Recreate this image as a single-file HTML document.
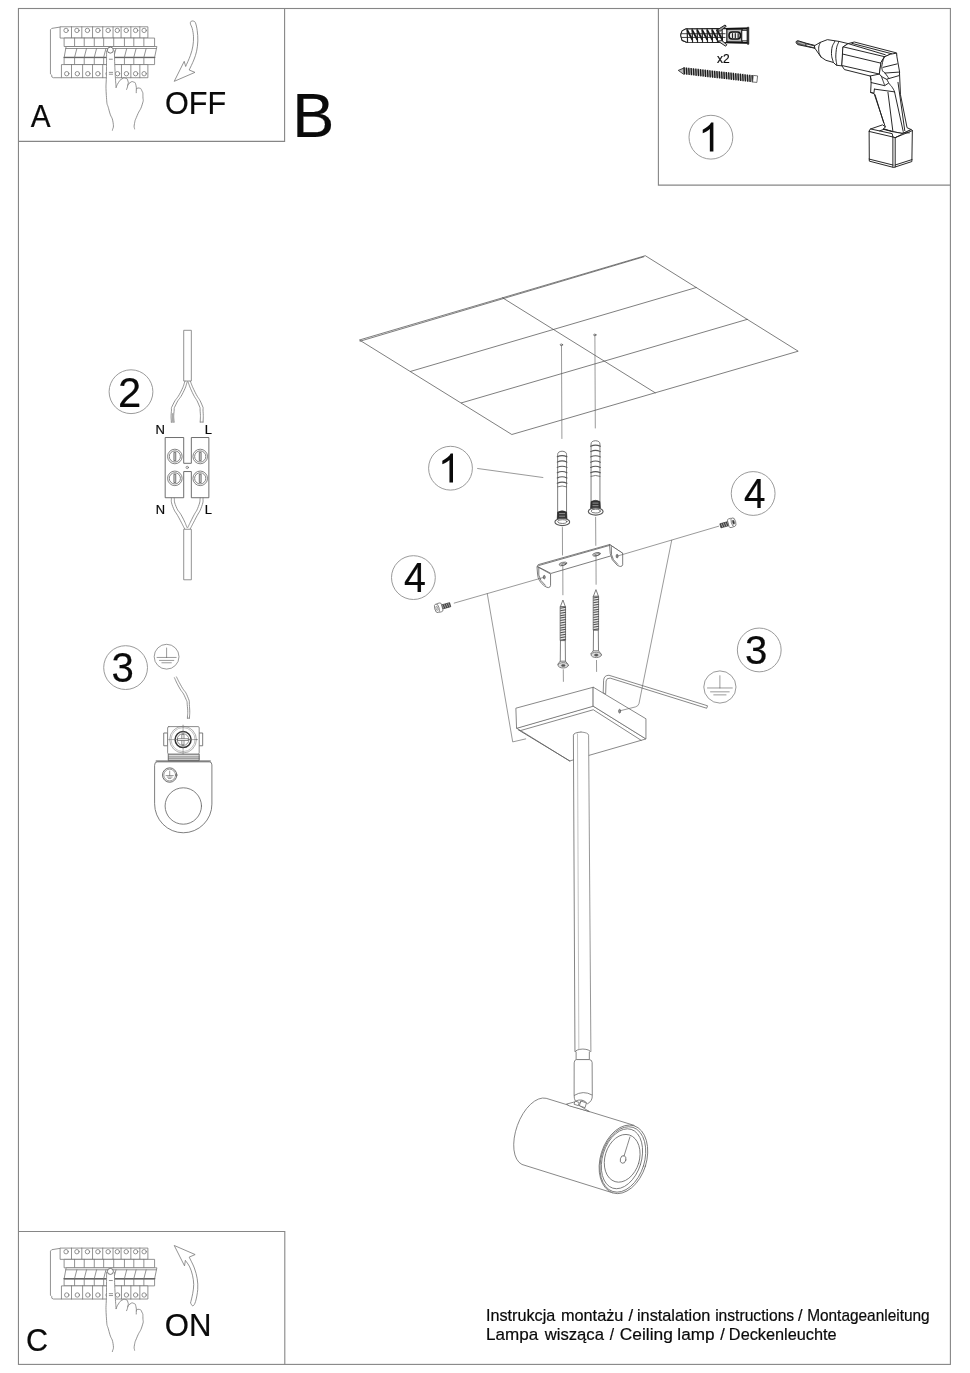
<!DOCTYPE html>
<html><head><meta charset="utf-8"><title>Instrukcja</title>
<style>
html,body{margin:0;padding:0;background:#fff;}
body{width:970px;height:1373px;overflow:hidden;font-family:"Liberation Sans",sans-serif;}
svg{display:block;position:absolute;left:0;top:0;will-change:transform;}
svg *{vector-effect:none;}
.fr *{fill:none;stroke:#868686;stroke-width:1.1;}
.tx text,.nt{font-family:"Liberation Sans",sans-serif;fill:#0a0a0a;stroke:#0a0a0a;stroke-width:0.2;}
.ft{stroke:#0a0a0a;stroke-width:0.18;}
.nc{fill:#fff;stroke:#8f8f8f;stroke-width:0.9;}
.ln{fill:none;stroke:#3c3c3c;stroke-width:0.85;stroke-linecap:round;stroke-linejoin:round;}
.lw{fill:#fff;stroke:#3c3c3c;stroke-width:0.85;stroke-linecap:round;stroke-linejoin:round;}
.lc{fill:none;stroke:#6a6a6a;stroke-width:0.8;stroke-linecap:round;stroke-linejoin:round;}
.lcw{fill:#fff;stroke:#6a6a6a;stroke-width:0.8;stroke-linecap:round;stroke-linejoin:round;}
.lp{fill:#fff;stroke:#585858;stroke-width:0.78;stroke-linecap:round;stroke-linejoin:round;}
.lpn{fill:none;stroke:#585858;stroke-width:0.78;stroke-linecap:round;stroke-linejoin:round;}
.lt2{fill:none;stroke:#484848;stroke-width:0.7;stroke-linecap:round;stroke-linejoin:round;}
.lt{fill:none;stroke:#555;stroke-width:0.6;stroke-linecap:round;stroke-linejoin:round;}
.ltw{fill:#fff;stroke:#555;stroke-width:0.6;stroke-linejoin:round;}
.lg{fill:none;stroke:#777;stroke-width:0.8;stroke-linecap:round;stroke-linejoin:round;}
.lgw{fill:#fff;stroke:#777;stroke-width:0.8;stroke-linejoin:round;}
.dk{fill:#333;stroke:#222;stroke-width:0.5;}
.gy{fill:#999;stroke:#444;stroke-width:0.6;}
</style></head>
<body>
<svg width="970" height="1373" viewBox="0 0 970 1373">
<g class="fr">
<rect x="18.45" y="8.50" width="931.95" height="1355.90" />
<path d="M18.45 141.40 L284.60 141.40 L284.60 8.50" />
<path d="M658.40 8.50 L658.40 185.10 L950.40 185.10" />
<path d="M18.45 1231.50 L284.80 1231.50 L284.80 1364.40" />
</g>
<g class="tx">
<text transform="translate(30.83 127.40) scale(0.9421 1)" font-size="31.56">A</text>
<text transform="translate(164.95 114.48) scale(0.9701 1)" font-size="31.52">OFF</text>
<text transform="translate(292.19 137.00) scale(0.9950 1)" font-size="63.42">B</text>
<text transform="translate(25.97 1350.59) scale(0.9781 1)" font-size="31.24">C</text>
<text transform="translate(164.82 1336.08) scale(0.9714 1)" font-size="32.08">ON</text>
<text transform="translate(717.05 62.50) scale(0.9613 1)" font-size="12.47">x2</text>
<text transform="translate(486.00 1320.60) scale(1.0313 1)" font-size="15.70" class="ft">Instrukcja</text>
<text transform="translate(560.90 1320.60) scale(1.0391 1)" font-size="15.70" class="ft">montażu</text>
<text transform="translate(628.50 1320.60) scale(1.0558 1)" font-size="15.70" class="ft">/</text>
<text transform="translate(637.00 1320.60) scale(1.0372 1)" font-size="15.70" class="ft">instalation</text>
<text transform="translate(715.14 1320.60) scale(0.9962 1)" font-size="15.70" class="ft">instructions</text>
<text transform="translate(798.10 1320.60) scale(1.0329 1)" font-size="15.70" class="ft">/</text>
<text transform="translate(807.13 1320.60) scale(0.9825 1)" font-size="15.70" class="ft">Montageanleitung</text>
<text transform="translate(486.09 1340.20) scale(1.0730 1)" font-size="15.90" class="ft">Lampa</text>
<text transform="translate(544.64 1340.20) scale(1.0494 1)" font-size="15.90" class="ft">wisząca</text>
<text transform="translate(609.80 1340.20) scale(0.9746 1)" font-size="15.90" class="ft">/</text>
<text transform="translate(619.73 1340.20) scale(1.0944 1)" font-size="15.90" class="ft">Ceiling</text>
<text transform="translate(677.34 1340.20) scale(1.0808 1)" font-size="15.90" class="ft">lamp</text>
<text transform="translate(720.20 1340.20) scale(1.0199 1)" font-size="15.90" class="ft">/</text>
<text transform="translate(728.86 1340.20) scale(1.0253 1)" font-size="15.90" class="ft">Deckenleuchte</text>
<text transform="translate(155.52 433.50) scale(1.0717 1)" font-size="12.22">N</text>
<text transform="translate(204.73 433.50) scale(1.0603 1)" font-size="12.22">L</text>
<text transform="translate(155.63 513.60) scale(1.0828 1)" font-size="11.93">N</text>
<text transform="translate(204.73 513.60) scale(1.0861 1)" font-size="11.93">L</text>
</g>
<circle class="nc" cx="710.90" cy="137.20" r="21.90" />
<path class="nt" transform="translate(698.32 151.60) scale(0.01977 -0.01977)" d="M763 0 H583 V1147 Q518 1085 412.5 1023 Q307 961 223 930 V1104 Q374 1175 487 1276 Q600 1377 647 1472 H763 Z"/>
<circle class="nc" cx="450.50" cy="468.20" r="21.90" />
<path class="nt" transform="translate(437.92 482.60) scale(0.01977 -0.01977)" d="M763 0 H583 V1147 Q518 1085 412.5 1023 Q307 961 223 930 V1104 Q374 1175 487 1276 Q600 1377 647 1472 H763 Z"/>
<circle class="nc" cx="131.00" cy="391.70" r="21.90" />
<text transform="translate(118.01 406.50) scale(0.9873 1)" font-size="42.29" class="nt">2</text>
<circle class="nc" cx="125.60" cy="667.60" r="21.90" />
<text transform="translate(111.59 682.08) scale(0.9644 1)" font-size="41.70" class="nt">3</text>
<circle class="nc" cx="413.40" cy="577.60" r="21.90" />
<text transform="translate(404.11 592.00) scale(0.9473 1)" font-size="41.60" class="nt">4</text>
<circle class="nc" cx="753.15" cy="493.50" r="21.90" />
<text transform="translate(743.98 508.00) scale(0.9282 1)" font-size="41.60" class="nt">4</text>
<circle class="nc" cx="759.25" cy="649.95" r="21.90" />
<text transform="translate(744.99 664.29) scale(0.9693 1)" font-size="41.48" class="nt">3</text>
<g id="main">
<path class="lt2" d="M359.80 339.90 L645.30 255.70 L798.20 351.20 L512.20 434.40 Z" />
<line class="lt2" x1="360.10" y1="341.20" x2="643.80" y2="256.80" />
<line class="lt2" x1="502.55" y1="297.80" x2="655.20" y2="392.80" />
<line class="lt2" x1="410.60" y1="371.40" x2="696.27" y2="287.53" />
<line class="lt2" x1="461.40" y1="402.90" x2="747.23" y2="319.37" />
<ellipse class="lt2" cx="561.40" cy="344.80" rx="1.20" ry="0.80" />
<ellipse class="lt2" cx="594.80" cy="334.90" rx="1.20" ry="0.80" />
<line class="lt" x1="561.50" y1="345.60" x2="561.90" y2="438.50" />
<line class="lt" x1="594.90" y1="335.70" x2="595.30" y2="428.00" />
<path class="lp" d="M557.65 519.00 L557.65 454.50 Q557.65 451.50 562.10 451.20 Q566.55 451.50 566.55 454.50 L566.55 519.00 Z"/>
<path class="lpn" style="stroke-width:1.05" d="M557.25 456.80 Q562.10 454.40 566.95 456.80"/>
<path class="lpn" style="stroke-width:1.05" d="M557.25 462.10 Q562.10 459.70 566.95 462.10"/>
<path class="lpn" style="stroke-width:1.05" d="M557.25 467.40 Q562.10 465.00 566.95 467.40"/>
<path class="lpn" style="stroke-width:1.05" d="M557.25 472.70 Q562.10 470.30 566.95 472.70"/>
<path class="lpn" style="stroke-width:1.05" d="M557.25 478.00 Q562.10 475.60 566.95 478.00"/>
<path class="lpn" style="stroke-width:1.05" d="M557.25 483.30 Q562.10 480.90 566.95 483.30"/>
<path class="lpn" d="M557.65 486.80 Q562.10 485.00 566.55 486.80"/>
<path class="dk" d="M557.65 512.00 Q562.10 509.50 566.55 512.00 L567.05 519.00 Q562.10 521.00 557.15 519.00 Z"/>
<path d="M559.10 513.60 L565.10 513.60 M559.10 516.20 L565.10 516.20" stroke="#bbb" stroke-width="0.7" fill="none"/>
<ellipse class="lp" cx="562.30" cy="522.00" rx="7.40" ry="3.60" style="stroke-width:1.1"/>
<ellipse class="lp" cx="562.30" cy="521.60" rx="4.60" ry="1.90" />
<path class="lp" d="M591.05 508.50 L591.05 444.00 Q591.05 441.00 595.50 440.70 Q599.95 441.00 599.95 444.00 L599.95 508.50 Z"/>
<path class="lpn" style="stroke-width:1.05" d="M590.65 446.30 Q595.50 443.90 600.35 446.30"/>
<path class="lpn" style="stroke-width:1.05" d="M590.65 451.60 Q595.50 449.20 600.35 451.60"/>
<path class="lpn" style="stroke-width:1.05" d="M590.65 456.90 Q595.50 454.50 600.35 456.90"/>
<path class="lpn" style="stroke-width:1.05" d="M590.65 462.20 Q595.50 459.80 600.35 462.20"/>
<path class="lpn" style="stroke-width:1.05" d="M590.65 467.50 Q595.50 465.10 600.35 467.50"/>
<path class="lpn" style="stroke-width:1.05" d="M590.65 472.80 Q595.50 470.40 600.35 472.80"/>
<path class="lpn" d="M591.05 476.30 Q595.50 474.50 599.95 476.30"/>
<path class="dk" d="M591.05 501.50 Q595.50 499.00 599.95 501.50 L600.45 508.50 Q595.50 510.50 590.55 508.50 Z"/>
<path d="M592.50 503.10 L598.50 503.10 M592.50 505.70 L598.50 505.70" stroke="#bbb" stroke-width="0.7" fill="none"/>
<ellipse class="lp" cx="595.70" cy="511.50" rx="7.40" ry="3.60" style="stroke-width:1.1"/>
<ellipse class="lp" cx="595.70" cy="511.10" rx="4.60" ry="1.90" />
<line class="lt" x1="477.60" y1="468.50" x2="542.90" y2="477.50" />
<line class="lt" x1="562.40" y1="527.50" x2="562.50" y2="555.00" />
<line class="lt" x1="595.60" y1="517.30" x2="595.80" y2="545.40" />
<path class="lp" d="M538.56 564.54 L609.69 544.50 L622.68 553.40 L610.93 555.88 L550.93 573.45 L537.69 566.52 Z" />
<line class="lpn" x1="538.80" y1="565.53" x2="609.32" y2="545.49" />
<path class="lp" d="M537.32 566.76 L550.56 573.94 L550.56 585.57 Q549.69 589.28 544.74 586.19 Q537.94 581.24 537.57 574.44 Z"/>
<path class="lpn" d="M538.80 567.63 L538.80 575.05 Q539.55 580.62 545.36 585.32"/>
<ellipse class="gy" cx="544.25" cy="577.16" rx="1.00" ry="1.80" />
<path class="lp" d="M609.82 544.74 L622.68 553.16 L622.68 564.79 Q621.69 568.00 617.12 565.16 Q610.93 560.21 610.31 554.02 Z"/>
<path class="lpn" d="M611.30 546.60 L611.55 554.64 Q612.17 559.84 617.74 564.29"/>
<ellipse class="gy" cx="617.12" cy="556.13" rx="1.00" ry="1.80" />
<ellipse class="lp" cx="562.93" cy="563.92" rx="3.90" ry="1.60" transform="rotate(-14.00 562.93 563.92)" />
<ellipse class="lt" cx="563.30" cy="564.29" rx="2.60" ry="0.90" transform="rotate(-14.00 563.30 564.29)" />
<ellipse class="lp" cx="596.46" cy="554.27" rx="3.90" ry="1.60" transform="rotate(-14.00 596.46 554.27)" />
<ellipse class="lt" cx="596.83" cy="554.64" rx="2.60" ry="0.90" transform="rotate(-14.00 596.83 554.64)" />
<line class="lt" x1="454.20" y1="603.10" x2="543.60" y2="577.40" />
<line class="lt" x1="617.60" y1="556.00" x2="718.70" y2="526.20" />
<line class="lt" x1="562.80" y1="564.20" x2="562.90" y2="594.80" />
<line class="lt" x1="596.00" y1="554.60" x2="596.10" y2="584.30" />
<path class="lp" d="M563.05 600.40 L565.45 606.90 L560.65 606.90 Z"/>
<rect class="lp" x="560.55" y="606.60" width="5.00" height="34.00" style="fill:#e6e6e6"/>
<path d="M560.25 608.30 L565.85 607.30" stroke="#505050" stroke-width="1.05" fill="none"/>
<path d="M560.25 610.75 L565.85 609.75" stroke="#505050" stroke-width="1.05" fill="none"/>
<path d="M560.25 613.20 L565.85 612.20" stroke="#505050" stroke-width="1.05" fill="none"/>
<path d="M560.25 615.65 L565.85 614.65" stroke="#505050" stroke-width="1.05" fill="none"/>
<path d="M560.25 618.10 L565.85 617.10" stroke="#505050" stroke-width="1.05" fill="none"/>
<path d="M560.25 620.55 L565.85 619.55" stroke="#505050" stroke-width="1.05" fill="none"/>
<path d="M560.25 623.00 L565.85 622.00" stroke="#505050" stroke-width="1.05" fill="none"/>
<path d="M560.25 625.45 L565.85 624.45" stroke="#505050" stroke-width="1.05" fill="none"/>
<path d="M560.25 627.90 L565.85 626.90" stroke="#505050" stroke-width="1.05" fill="none"/>
<path d="M560.25 630.35 L565.85 629.35" stroke="#505050" stroke-width="1.05" fill="none"/>
<path d="M560.25 632.80 L565.85 631.80" stroke="#505050" stroke-width="1.05" fill="none"/>
<path d="M560.25 635.25 L565.85 634.25" stroke="#505050" stroke-width="1.05" fill="none"/>
<path d="M560.25 637.70 L565.85 636.70" stroke="#505050" stroke-width="1.05" fill="none"/>
<path d="M560.25 640.15 L565.85 639.15" stroke="#505050" stroke-width="1.05" fill="none"/>
<path class="lp" d="M560.85 640.60 L565.25 640.60 L565.45 662.40 L560.65 662.40 Z"/>
<path class="lp" d="M560.65 661.20 L565.45 661.20 L568.05 664.40 L558.05 664.40 Z"/>
<ellipse class="lp" cx="563.25" cy="665.30" rx="5.20" ry="2.70" style="fill:#ddd;stroke:#777;stroke-width:0.9"/>
<ellipse class="dk" cx="563.25" cy="665.50" rx="1.90" ry="1.10" style="fill:#555;stroke:#555"/>
<path class="lp" d="M596.10 590.00 L598.50 596.50 L593.70 596.50 Z"/>
<rect class="lp" x="593.60" y="596.20" width="5.00" height="34.00" style="fill:#e6e6e6"/>
<path d="M593.30 597.90 L598.90 596.90" stroke="#505050" stroke-width="1.05" fill="none"/>
<path d="M593.30 600.35 L598.90 599.35" stroke="#505050" stroke-width="1.05" fill="none"/>
<path d="M593.30 602.80 L598.90 601.80" stroke="#505050" stroke-width="1.05" fill="none"/>
<path d="M593.30 605.25 L598.90 604.25" stroke="#505050" stroke-width="1.05" fill="none"/>
<path d="M593.30 607.70 L598.90 606.70" stroke="#505050" stroke-width="1.05" fill="none"/>
<path d="M593.30 610.15 L598.90 609.15" stroke="#505050" stroke-width="1.05" fill="none"/>
<path d="M593.30 612.60 L598.90 611.60" stroke="#505050" stroke-width="1.05" fill="none"/>
<path d="M593.30 615.05 L598.90 614.05" stroke="#505050" stroke-width="1.05" fill="none"/>
<path d="M593.30 617.50 L598.90 616.50" stroke="#505050" stroke-width="1.05" fill="none"/>
<path d="M593.30 619.95 L598.90 618.95" stroke="#505050" stroke-width="1.05" fill="none"/>
<path d="M593.30 622.40 L598.90 621.40" stroke="#505050" stroke-width="1.05" fill="none"/>
<path d="M593.30 624.85 L598.90 623.85" stroke="#505050" stroke-width="1.05" fill="none"/>
<path d="M593.30 627.30 L598.90 626.30" stroke="#505050" stroke-width="1.05" fill="none"/>
<path d="M593.30 629.75 L598.90 628.75" stroke="#505050" stroke-width="1.05" fill="none"/>
<path class="lp" d="M593.90 630.20 L598.30 630.20 L598.50 652.00 L593.70 652.00 Z"/>
<path class="lp" d="M593.70 650.80 L598.50 650.80 L601.10 654.00 L591.10 654.00 Z"/>
<ellipse class="lp" cx="596.30" cy="654.90" rx="5.20" ry="2.70" style="fill:#ddd;stroke:#777;stroke-width:0.9"/>
<ellipse class="dk" cx="596.30" cy="655.10" rx="1.90" ry="1.10" style="fill:#555;stroke:#555"/>
<line class="lt" x1="563.30" y1="669.70" x2="563.40" y2="681.40" />
<line class="lt" x1="596.50" y1="660.40" x2="596.60" y2="671.50" />
<g transform="translate(439.60 607.60) rotate(-15.50)">
<rect x="1.50" y="-2.1" width="9.5" height="4.2" fill="#444" stroke="#222" stroke-width="0.6"/>
<line x1="3.20" y1="-1.9" x2="3.70" y2="1.9" stroke="#ddd" stroke-width="0.55"/>
<line x1="5.30" y1="-1.9" x2="5.80" y2="1.9" stroke="#ddd" stroke-width="0.55"/>
<line x1="7.40" y1="-1.9" x2="7.90" y2="1.9" stroke="#ddd" stroke-width="0.55"/>
<line x1="9.50" y1="-1.9" x2="10.00" y2="1.9" stroke="#ddd" stroke-width="0.55"/>
<rect x="-2.8" y="-4.5" width="5.4" height="9.0" rx="1.6" fill="#fff" stroke="#666" stroke-width="0.75"/>
<ellipse cx="-2.80" cy="0" rx="2.2" ry="4.5" fill="#fff" stroke="#666" stroke-width="0.75"/>
<ellipse cx="-2.80" cy="0" rx="1.0" ry="2.2" fill="#e4e4e4" stroke="#666" stroke-width="0.5"/>
</g>
<g transform="translate(731.00 522.90) rotate(-15.50)">
<rect x="-11.00" y="-2.1" width="9.5" height="4.2" fill="#444" stroke="#222" stroke-width="0.6"/>
<line x1="-9.60" y1="-1.9" x2="-9.10" y2="1.9" stroke="#ddd" stroke-width="0.55"/>
<line x1="-7.50" y1="-1.9" x2="-7.00" y2="1.9" stroke="#ddd" stroke-width="0.55"/>
<line x1="-5.40" y1="-1.9" x2="-4.90" y2="1.9" stroke="#ddd" stroke-width="0.55"/>
<line x1="-3.30" y1="-1.9" x2="-2.80" y2="1.9" stroke="#ddd" stroke-width="0.55"/>
<rect x="-2.8" y="-4.5" width="5.4" height="9.0" rx="1.6" fill="#fff" stroke="#666" stroke-width="0.75"/>
<ellipse cx="2.60" cy="0" rx="2.2" ry="4.5" fill="#fff" stroke="#666" stroke-width="0.75"/>
<ellipse cx="2.60" cy="0" rx="1.0" ry="2.2" fill="#333" stroke="#666" stroke-width="0.5"/>
</g>
<path class="lcw" d="M603.20 692.58 L603.61 680.21 Q604.02 675.26 608.97 675.26 L707.53 705.77 L706.70 708.25 L610.21 678.14 Q606.49 677.73 606.08 681.03 L605.67 693.40 Z"/>
<path class="lcw" d="M516.95 728.25 L569.60 760.98 L645.95 738.93 L593.31 706.20 Z" />
<path class="lcw" d="M516.24 708.10 L593.31 687.23 L593.31 706.20 L516.95 728.25 Z" />
<path class="lcw" d="M593.31 687.23 L645.95 718.77 L645.95 738.93 L593.31 706.20 Z" />
<path class="lc" d="M520.27 730.63 L593.31 709.76 L641.21 740.35" />
<line class="lc" x1="518.14" y1="729.68" x2="569.83" y2="760.98" style="stroke-width:1.0"/>
<ellipse class="gy" cx="619.63" cy="711.18" rx="1.00" ry="1.90" />
<path class="lt" d="M487.3 593.8 L512.7 741.9 L525.7 738.9"/>
<path class="lt" d="M671.7 540.3 L639.0 703.5 Q638.3 706.2 635.5 706.9 L620.4 710.7"/>
<path class="lcw" style="stroke:none" d="M574.95 1051.40 L573.40 735.20 Q573.60 732.60 581.00 732.00 Q588.40 732.60 588.60 735.20 L590.90 1051.40 Z"/>
<path class="lc" style="stroke:#666" d="M574.95 1051.40 L573.40 735.20 Q573.60 732.60 581.00 732.00"/>
<path class="lc" style="stroke:#7c7c7c" d="M581.00 732.00 Q588.40 732.60 588.60 735.20 L590.90 1051.40"/>
<line class="lc" x1="577.50" y1="734.00" x2="578.85" y2="1048.80" style="stroke:#b4b4b4"/>
<path class="lcw" d="M545.77 1098.21 A18.6 35.25 19.8 0 0 521.96 1164.44 L612.91 1192.92 L634.00 1125.74 Z"/>
<path class="lcw" d="M566.96 1103.97 L573.81 1102.17 L589.33 1111.55 L569.48 1105.92 Z"/>
<path class="lcw" d="M575.40 1101.08 L579.23 1102.53 L578.29 1105.63 L574.39 1104.33 Z" />
<path class="lcw" d="M581.18 1101.08 L586.44 1103.03 L585.00 1107.79 L579.73 1105.77 Z" />
<path class="lc" d="M580.31 1102.89 C581.15 1102.05 580.92 1100.48 582.84 1100.36 C584.76 1100.24 585.00 1101.81 586.08 1102.53" />
<path class="lcw" d="M576.12 1050.93 L576.12 1059.73 L589.33 1059.73 L589.33 1050.93" />
<path class="lcw" d="M575.33 1051.65 Q575.98 1049.34 582.84 1049.05 Q589.69 1049.34 590.41 1051.65"/>
<path class="lcw" d="M574.18 1062.47 Q574.25 1059.88 576.34 1059.59 L589.33 1059.59 Q592.00 1059.88 592.14 1062.47 L592.29 1095.31 Q592.58 1101.08 587.53 1103.75 Q582.47 1097.84 575.40 1101.08 Q573.96 1098.56 574.10 1095.31 Z"/>
<path class="lc" d="M574.39 1095.31 Q583.20 1089.90 592.00 1094.95"/>
<ellipse class="lcw" cx="623.46" cy="1159.33" rx="23.00" ry="35.20" transform="rotate(17.40 623.46 1159.33)" />
<ellipse class="lc" cx="622.89" cy="1159.45" rx="21.60" ry="33.60" transform="rotate(17.40 622.89 1159.45)" />
<ellipse class="lc" cx="621.98" cy="1158.77" rx="19.40" ry="30.80" transform="rotate(17.40 621.98 1158.77)" />
<ellipse class="lc" cx="622.21" cy="1158.31" rx="17.20" ry="24.40" transform="rotate(17.00 622.21 1158.31)" />
<ellipse class="lcw" cx="623.12" cy="1159.45" rx="2.80" ry="3.90" transform="rotate(14.00 623.12 1159.45)" />
<path class="lc" d="M624.02 1156.04 Q627.43 1145.16 629.92 1136.99"/>
<circle class="ltw" cx="719.90" cy="687.00" r="16.10" />
<line class="lt" x1="719.90" y1="675.73" x2="719.90" y2="687.97" />
<line class="lt" x1="707.50" y1="687.97" x2="732.30" y2="687.97" />
<line class="lt" x1="710.56" y1="691.83" x2="729.24" y2="691.83" />
<line class="lt" x1="713.78" y1="694.89" x2="726.02" y2="694.89" />
</g>
<g id="left">
<rect class="lgw" x="183.71" y="330.31" width="7.63" height="50.72" />
<path class="lg" d="M184.95 381.24 C183.51 384.88 184.54 384.53 180.62 392.16 C176.70 399.79 176.29 397.59 173.20 404.12 C170.11 410.65 171.96 405.77 171.34 411.75 C170.72 417.73 171.34 418.62 171.34 422.06" />
<path class="lg" d="M187.22 381.86 C185.84 385.43 186.80 385.16 183.09 392.58 C179.38 400.00 179.10 397.73 176.08 404.12 C173.06 410.51 174.71 405.77 174.02 411.75 C173.33 417.73 174.02 418.62 174.02 422.06" />
<line class="lg" x1="171.34" y1="422.06" x2="174.02" y2="422.06" />
<rect x="171.55" y="413.20" width="2.40" height="8.60" fill="#aaa" stroke="none"/>
<path class="lg" d="M188.04 381.86 C189.48 385.43 188.86 385.16 192.37 392.58 C195.88 400.00 195.95 397.73 198.56 404.12 C201.17 410.51 199.66 405.77 200.21 411.75 C200.76 417.73 200.21 418.62 200.21 422.06" />
<path class="lg" d="M190.31 381.24 C191.89 384.88 191.27 384.53 195.05 392.16 C198.83 399.79 198.97 397.59 201.65 404.12 C204.33 410.65 202.61 405.77 203.09 411.75 C203.57 417.73 203.09 418.62 203.09 422.06" />
<line class="lg" x1="200.21" y1="422.06" x2="203.09" y2="422.06" />
<path class="lw" d="M165.57 437.53 L183.71 437.53 L183.71 463.30 L191.34 463.30 L191.34 437.53 L208.87 437.53 L208.87 497.73 L191.34 497.73 L191.34 471.55 L183.71 471.55 L183.71 497.73 L165.57 497.73 Z" style="stroke:#555"/>
<circle class="lt" cx="187.22" cy="467.42" r="1.20" />
<circle class="lgw" cx="174.85" cy="456.49" r="7.30" style="stroke:#666"/>
<circle class="lgw" cx="174.85" cy="456.49" r="5.60" style="stroke:#666"/>
<rect class="lgw" x="173.95" y="452.29" width="1.80" height="8.40" style="stroke:#555;fill:#ddd"/>
<circle class="lgw" cx="200.21" cy="456.49" r="7.30" style="stroke:#666"/>
<circle class="lgw" cx="200.21" cy="456.49" r="5.60" style="stroke:#666"/>
<rect class="lgw" x="199.31" y="452.29" width="1.80" height="8.40" style="stroke:#555;fill:#ddd"/>
<circle class="lgw" cx="174.85" cy="478.35" r="7.30" style="stroke:#666"/>
<circle class="lgw" cx="174.85" cy="478.35" r="5.60" style="stroke:#666"/>
<rect class="lgw" x="173.95" y="474.15" width="1.80" height="8.40" style="stroke:#555;fill:#ddd"/>
<circle class="lgw" cx="200.21" cy="478.35" r="7.30" style="stroke:#666"/>
<circle class="lgw" cx="200.21" cy="478.35" r="5.60" style="stroke:#666"/>
<rect class="lgw" x="199.31" y="474.15" width="1.80" height="8.40" style="stroke:#555;fill:#ddd"/>
<path class="lg" d="M171.34 497.94 C171.82 500.83 170.24 499.93 172.78 506.60 C175.32 513.27 175.05 510.59 178.97 517.94 C182.89 525.29 182.68 525.09 184.54 528.66" />
<path class="lg" d="M174.23 497.94 C174.85 500.83 173.40 500.28 176.08 506.60 C178.76 512.92 178.63 509.97 182.27 516.91 C185.91 523.85 185.43 523.92 187.01 527.42" />
<path class="lg" d="M200.21 497.94 C199.59 500.83 200.76 500.28 198.35 506.60 C195.94 512.92 196.49 509.97 192.99 516.91 C189.49 523.85 189.56 523.92 187.84 527.42" />
<path class="lg" d="M203.09 497.94 C202.61 500.83 204.05 499.93 201.65 506.60 C199.25 513.27 199.66 510.59 195.88 517.94 C192.10 525.29 192.17 525.09 190.31 528.66" />
<rect class="lgw" x="183.71" y="529.28" width="7.63" height="50.51" />
<circle class="ltw" cx="166.60" cy="656.70" r="12.40" />
<line class="lt" x1="166.60" y1="648.02" x2="166.60" y2="657.44" />
<line class="lt" x1="157.05" y1="657.44" x2="176.15" y2="657.44" />
<line class="lt" x1="159.41" y1="660.42" x2="173.79" y2="660.42" />
<line class="lt" x1="161.89" y1="662.78" x2="171.31" y2="662.78" />
<path class="lg" d="M174.43 677.73 C175.94 680.82 175.40 680.48 178.97 687.01 C182.54 693.54 182.33 690.79 185.15 697.32 C187.97 703.85 186.66 699.66 187.42 706.60 C188.18 713.54 187.42 714.29 187.42 718.14" />
<path class="lg" d="M176.49 676.91 C178.14 680.07 177.73 679.79 181.44 686.39 C185.15 692.99 184.95 689.96 187.63 696.70 C190.31 703.44 188.86 699.45 189.48 706.60 C190.10 713.75 189.48 714.29 189.48 718.14" />
<line class="lg" x1="187.42" y1="718.14" x2="189.48" y2="718.14" />
<path class="lw" style="stroke:#686868" d="M154.60 764.86 Q154.60 761.86 157.20 761.86 L209.30 761.86 Q211.90 761.86 211.90 764.86 L211.90 804.12 A28.65 28.65 0 0 1 154.60 804.12 Z"/>
<line class="ln" x1="156.10" y1="761.06" x2="210.40" y2="761.06" style="stroke-width:1.1;stroke:#555"/>
<circle class="lw" cx="183.30" cy="806.00" r="18.20" style="stroke:#686868"/>
<circle class="lw" cx="169.69" cy="775.05" r="7.20" style="stroke:#555"/>
<circle class="lt" cx="169.69" cy="775.05" r="5.90" />
<line class="lt" x1="169.69" y1="771.05" x2="169.69" y2="775.55" />
<line class="lt" x1="166.09" y1="775.55" x2="173.29" y2="775.55" />
<line class="lt" x1="167.29" y1="777.05" x2="172.09" y2="777.05" />
<line class="lt" x1="168.49" y1="778.45" x2="170.89" y2="778.45" />
<rect class="lw" x="168.66" y="754.02" width="30.52" height="6.60" style="fill:#ddd;stroke:#555"/>
<line class="lt" x1="168.66" y1="756.91" x2="199.18" y2="756.91" />
<line class="lt" x1="168.66" y1="758.76" x2="199.18" y2="758.76" />
<rect class="lw" x="164.12" y="732.99" width="3.51" height="12.78" style="stroke:#666"/>
<rect class="lw" x="199.18" y="732.99" width="3.50" height="12.78" style="stroke:#666"/>
<rect class="lw" x="167.63" y="726.60" width="31.55" height="27.42" style="stroke:#777" rx="1.2"/>
<circle class="lt" cx="183.09" cy="739.59" r="13.40" style="stroke:#777"/>
<circle class="lt" cx="183.09" cy="739.59" r="12.00" style="stroke:#999"/>
<circle class="lw" cx="183.09" cy="739.59" r="8.00" style="stroke:#333;stroke-width:1.5"/>
<circle class="lt" cx="183.09" cy="739.59" r="5.90" style="stroke:#444"/>
<line class="lt" x1="183.09" y1="725.09" x2="183.09" y2="754.09" style="stroke:#777"/>
<line class="lt" x1="168.59" y1="739.59" x2="197.59" y2="739.59" style="stroke:#777"/>
<rect class="lw" x="182.19" y="734.39" width="1.80" height="10.40" style="stroke:#444;stroke-width:0.6"/>
<rect class="lw" x="177.89" y="738.69" width="10.40" height="1.80" style="stroke:#444;stroke-width:0.6"/>
</g>
<g id="boxA">
<path class="lg" d="M60.10 27.06 L51.79 28.40 L50.45 29.74 L50.45 73.97 L51.79 75.31 L51.79 76.92 L53.40 77.72 L61.44 77.72" />
<rect class="lgw" x="60.10" y="26.79" width="87.79" height="11.26" />
<circle class="lg" cx="66.07" cy="30.41" r="2.20" />
<line class="lg" x1="71.50" y1="26.79" x2="71.50" y2="38.05" />
<circle class="lg" cx="76.92" cy="30.41" r="2.20" />
<line class="lg" x1="81.81" y1="26.79" x2="81.81" y2="38.05" />
<circle class="lg" cx="87.44" cy="30.41" r="2.20" />
<line class="lg" x1="92.54" y1="26.79" x2="92.54" y2="38.05" />
<circle class="lg" cx="97.90" cy="30.41" r="2.20" />
<line class="lg" x1="102.72" y1="26.79" x2="102.72" y2="38.05" />
<circle class="lg" cx="108.15" cy="30.41" r="2.20" />
<line class="lg" x1="113.04" y1="26.79" x2="113.04" y2="38.05" />
<circle class="lg" cx="117.33" cy="30.41" r="2.20" />
<line class="lg" x1="121.08" y1="26.79" x2="121.08" y2="38.05" />
<circle class="lg" cx="126.24" cy="30.41" r="2.20" />
<line class="lg" x1="130.87" y1="26.79" x2="130.87" y2="38.05" />
<circle class="lg" cx="135.62" cy="30.41" r="2.20" />
<line class="lg" x1="139.85" y1="26.79" x2="139.85" y2="38.05" />
<circle class="lg" cx="144.13" cy="30.41" r="2.20" />
<rect class="lgw" x="64.12" y="38.05" width="90.47" height="8.45" />
<line class="lg" x1="74.58" y1="38.05" x2="74.58" y2="46.50" />
<line class="lg" x1="84.23" y1="38.05" x2="84.23" y2="46.50" />
<line class="lg" x1="94.28" y1="38.05" x2="94.28" y2="46.50" />
<line class="lg" x1="103.66" y1="38.05" x2="103.66" y2="46.50" />
<line class="lg" x1="113.71" y1="38.05" x2="113.71" y2="46.50" />
<line class="lg" x1="124.43" y1="38.05" x2="124.43" y2="46.50" />
<line class="lg" x1="133.81" y1="38.05" x2="133.81" y2="46.50" />
<line class="lg" x1="143.87" y1="38.05" x2="143.87" y2="46.50" />
<rect class="lgw" x="64.12" y="57.62" width="90.47" height="6.97" />
<line class="lg" x1="74.58" y1="57.62" x2="74.58" y2="64.59" />
<line class="lg" x1="84.23" y1="57.62" x2="84.23" y2="64.59" />
<line class="lg" x1="94.28" y1="57.62" x2="94.28" y2="64.59" />
<line class="lg" x1="103.66" y1="57.62" x2="103.66" y2="64.59" />
<line class="lg" x1="113.71" y1="57.62" x2="113.71" y2="64.59" />
<line class="lg" x1="124.43" y1="57.62" x2="124.43" y2="64.59" />
<line class="lg" x1="133.81" y1="57.62" x2="133.81" y2="64.59" />
<line class="lg" x1="143.87" y1="57.62" x2="143.87" y2="64.59" />
<path class="lgw" d="M66.13 46.50 L156.87 46.50 L154.59 57.62 L64.12 57.62 Z" />
<line class="lg" x1="65.73" y1="48.51" x2="156.33" y2="48.51" />
<line class="lg" x1="64.12" y1="57.35" x2="154.72" y2="57.35" style="stroke-width:1.4;stroke:#666"/>
<line class="lg" x1="76.86" y1="48.51" x2="74.58" y2="57.35" />
<line class="lg" x1="86.51" y1="48.51" x2="84.23" y2="57.35" />
<line class="lg" x1="96.56" y1="48.51" x2="94.28" y2="57.35" />
<line class="lg" x1="105.94" y1="48.51" x2="103.66" y2="57.35" />
<line class="lg" x1="115.99" y1="48.51" x2="113.71" y2="57.35" />
<line class="lg" x1="126.71" y1="48.51" x2="124.43" y2="57.35" />
<line class="lg" x1="136.09" y1="48.51" x2="133.81" y2="57.35" />
<line class="lg" x1="146.14" y1="48.51" x2="143.87" y2="57.35" />
<rect class="lgw" x="61.44" y="64.59" width="86.45" height="13.13" />
<circle class="lg" cx="66.74" cy="73.70" r="2.20" />
<line class="lg" x1="71.50" y1="64.59" x2="71.50" y2="77.72" />
<circle class="lg" cx="77.32" cy="73.70" r="2.20" />
<line class="lg" x1="82.62" y1="64.59" x2="82.62" y2="77.72" />
<circle class="lg" cx="87.85" cy="73.70" r="2.20" />
<line class="lg" x1="92.54" y1="64.59" x2="92.54" y2="77.72" />
<circle class="lg" cx="97.90" cy="73.70" r="2.20" />
<line class="lg" x1="102.72" y1="64.59" x2="102.72" y2="77.72" />
<circle class="lg" cx="108.15" cy="73.70" r="2.20" />
<line class="lg" x1="113.04" y1="64.59" x2="113.04" y2="77.72" />
<circle class="lg" cx="117.53" cy="73.70" r="2.20" />
<line class="lg" x1="121.48" y1="64.59" x2="121.48" y2="77.72" />
<circle class="lg" cx="126.44" cy="73.70" r="2.20" />
<line class="lg" x1="130.87" y1="64.59" x2="130.87" y2="77.72" />
<circle class="lg" cx="135.62" cy="73.70" r="2.20" />
<line class="lg" x1="139.85" y1="64.59" x2="139.85" y2="77.72" />
<circle class="lg" cx="144.13" cy="73.70" r="2.20" />
<path d="M106.61 50.92 L106.47 71.29 L106.34 95.41 L109.02 110.16 L113.04 122.22 L112.37 130.26 L134.62 128.92 L134.62 128.92 L134.49 123.56 L137.17 115.52 L142.12 104.79 L142.93 96.75 L141.86 90.72 L138.91 88.04 L136.23 89.38 L135.96 85.36 L133.55 82.01 L130.06 82.68 L127.78 85.36 L127.78 85.36 L127.92 80.94 L125.51 78.26 L121.75 79.06 L118.40 82.68 L116.12 87.37 L116.12 87.37 L115.05 71.29 L114.38 50.92 Z" fill="#fff" stroke="none"/>
<path class="lg" d="M106.61 50.92 C106.56 57.71 106.56 56.46 106.47 71.29 C106.38 86.12 105.49 82.45 106.34 95.41 C107.19 108.37 106.79 101.22 109.02 110.16 C111.25 119.10 111.92 115.52 113.04 122.22 C114.16 128.92 112.59 127.58 112.37 130.26" />
<path class="lg" d="M114.38 50.92 C114.60 57.71 114.47 59.14 115.05 71.29 C115.63 83.44 115.76 82.01 116.12 87.37" />
<path class="lg" d="M116.12 87.37 C116.88 85.81 116.52 85.45 118.40 82.68 C120.28 79.91 119.38 80.53 121.75 79.06 C124.12 77.59 123.45 77.63 125.51 78.26 C127.57 78.89 127.16 78.57 127.92 80.94 C128.68 83.31 128.23 82.55 127.78 85.36 C127.33 88.17 126.98 88.04 126.58 89.38" />
<path class="lg" d="M127.78 85.36 C128.54 84.47 128.14 83.80 130.06 82.68 C131.98 81.56 131.58 81.12 133.55 82.01 C135.52 82.90 135.07 81.79 135.96 85.36 C136.85 88.93 136.14 90.27 136.23 92.73" />
<path class="lg" d="M136.23 89.38 C137.12 88.93 137.03 87.59 138.91 88.04 C140.79 88.49 140.52 87.82 141.86 90.72 C143.20 93.62 142.84 92.06 142.93 96.75 C143.02 101.44 144.04 98.53 142.12 104.79 C140.20 111.05 139.71 109.26 137.17 115.52 C134.63 121.78 135.34 119.09 134.49 123.56 C133.64 128.03 134.58 127.13 134.62 128.92" />
<circle class="lgw" cx="110.36" cy="50.11" r="3.00" style="stroke:#555"/>
<line class="lg" x1="109.29" y1="59.23" x2="112.37" y2="59.23" />
<line class="lg" x1="109.29" y1="72.36" x2="112.64" y2="72.36" />
<line class="lg" x1="109.29" y1="74.24" x2="112.64" y2="74.24" />
<path class="lgw" d="M192.78 20.93 C193.21 21.20 194.62 20.96 195.36 22.58 C196.10 24.20 196.81 27.56 197.22 30.62 C197.63 33.68 197.94 37.49 197.84 40.93 C197.74 44.37 197.27 48.06 196.60 51.24 C195.93 54.42 195.05 56.87 193.81 60.00 C192.57 63.13 189.95 68.33 189.18 70.00 L194.95 72.37 L174.23 81.34 L184.23 61.34 L185.67 66.49 L185.67 66.49 C186.46 64.63 189.21 58.76 190.41 55.36 C191.61 51.96 192.37 49.17 192.89 46.08 C193.41 42.99 193.61 39.72 193.51 36.80 C193.41 33.88 192.79 30.71 192.27 28.56 C191.75 26.41 190.65 25.09 190.41 23.92 C190.17 22.75 190.42 22.05 190.82 21.55 C191.22 21.05 192.45 21.03 192.78 20.93 Z"/>
</g>
<g id="boxC" transform="translate(0 1221.3)">
<path class="lg" d="M60.10 27.06 L51.79 28.40 L50.45 29.74 L50.45 73.97 L51.79 75.31 L51.79 76.92 L53.40 77.72 L61.44 77.72" />
<rect class="lgw" x="60.10" y="26.79" width="87.79" height="11.26" />
<circle class="lg" cx="66.07" cy="30.41" r="2.20" />
<line class="lg" x1="71.50" y1="26.79" x2="71.50" y2="38.05" />
<circle class="lg" cx="76.92" cy="30.41" r="2.20" />
<line class="lg" x1="81.81" y1="26.79" x2="81.81" y2="38.05" />
<circle class="lg" cx="87.44" cy="30.41" r="2.20" />
<line class="lg" x1="92.54" y1="26.79" x2="92.54" y2="38.05" />
<circle class="lg" cx="97.90" cy="30.41" r="2.20" />
<line class="lg" x1="102.72" y1="26.79" x2="102.72" y2="38.05" />
<circle class="lg" cx="108.15" cy="30.41" r="2.20" />
<line class="lg" x1="113.04" y1="26.79" x2="113.04" y2="38.05" />
<circle class="lg" cx="117.33" cy="30.41" r="2.20" />
<line class="lg" x1="121.08" y1="26.79" x2="121.08" y2="38.05" />
<circle class="lg" cx="126.24" cy="30.41" r="2.20" />
<line class="lg" x1="130.87" y1="26.79" x2="130.87" y2="38.05" />
<circle class="lg" cx="135.62" cy="30.41" r="2.20" />
<line class="lg" x1="139.85" y1="26.79" x2="139.85" y2="38.05" />
<circle class="lg" cx="144.13" cy="30.41" r="2.20" />
<rect class="lgw" x="64.12" y="38.05" width="90.47" height="8.45" />
<line class="lg" x1="74.58" y1="38.05" x2="74.58" y2="46.50" />
<line class="lg" x1="84.23" y1="38.05" x2="84.23" y2="46.50" />
<line class="lg" x1="94.28" y1="38.05" x2="94.28" y2="46.50" />
<line class="lg" x1="103.66" y1="38.05" x2="103.66" y2="46.50" />
<line class="lg" x1="113.71" y1="38.05" x2="113.71" y2="46.50" />
<line class="lg" x1="124.43" y1="38.05" x2="124.43" y2="46.50" />
<line class="lg" x1="133.81" y1="38.05" x2="133.81" y2="46.50" />
<line class="lg" x1="143.87" y1="38.05" x2="143.87" y2="46.50" />
<rect class="lgw" x="64.12" y="57.62" width="90.47" height="6.97" />
<line class="lg" x1="74.58" y1="57.62" x2="74.58" y2="64.59" />
<line class="lg" x1="84.23" y1="57.62" x2="84.23" y2="64.59" />
<line class="lg" x1="94.28" y1="57.62" x2="94.28" y2="64.59" />
<line class="lg" x1="103.66" y1="57.62" x2="103.66" y2="64.59" />
<line class="lg" x1="113.71" y1="57.62" x2="113.71" y2="64.59" />
<line class="lg" x1="124.43" y1="57.62" x2="124.43" y2="64.59" />
<line class="lg" x1="133.81" y1="57.62" x2="133.81" y2="64.59" />
<line class="lg" x1="143.87" y1="57.62" x2="143.87" y2="64.59" />
<path class="lgw" d="M66.13 46.50 L156.87 46.50 L154.59 57.62 L64.12 57.62 Z" />
<line class="lg" x1="65.73" y1="48.51" x2="156.33" y2="48.51" />
<line class="lg" x1="64.12" y1="57.35" x2="154.72" y2="57.35" style="stroke-width:1.4;stroke:#666"/>
<line class="lg" x1="76.86" y1="48.51" x2="74.58" y2="57.35" />
<line class="lg" x1="86.51" y1="48.51" x2="84.23" y2="57.35" />
<line class="lg" x1="96.56" y1="48.51" x2="94.28" y2="57.35" />
<line class="lg" x1="105.94" y1="48.51" x2="103.66" y2="57.35" />
<line class="lg" x1="115.99" y1="48.51" x2="113.71" y2="57.35" />
<line class="lg" x1="126.71" y1="48.51" x2="124.43" y2="57.35" />
<line class="lg" x1="136.09" y1="48.51" x2="133.81" y2="57.35" />
<line class="lg" x1="146.14" y1="48.51" x2="143.87" y2="57.35" />
<rect class="lgw" x="61.44" y="64.59" width="86.45" height="13.13" />
<circle class="lg" cx="66.74" cy="73.70" r="2.20" />
<line class="lg" x1="71.50" y1="64.59" x2="71.50" y2="77.72" />
<circle class="lg" cx="77.32" cy="73.70" r="2.20" />
<line class="lg" x1="82.62" y1="64.59" x2="82.62" y2="77.72" />
<circle class="lg" cx="87.85" cy="73.70" r="2.20" />
<line class="lg" x1="92.54" y1="64.59" x2="92.54" y2="77.72" />
<circle class="lg" cx="97.90" cy="73.70" r="2.20" />
<line class="lg" x1="102.72" y1="64.59" x2="102.72" y2="77.72" />
<circle class="lg" cx="108.15" cy="73.70" r="2.20" />
<line class="lg" x1="113.04" y1="64.59" x2="113.04" y2="77.72" />
<circle class="lg" cx="117.53" cy="73.70" r="2.20" />
<line class="lg" x1="121.48" y1="64.59" x2="121.48" y2="77.72" />
<circle class="lg" cx="126.44" cy="73.70" r="2.20" />
<line class="lg" x1="130.87" y1="64.59" x2="130.87" y2="77.72" />
<circle class="lg" cx="135.62" cy="73.70" r="2.20" />
<line class="lg" x1="139.85" y1="64.59" x2="139.85" y2="77.72" />
<circle class="lg" cx="144.13" cy="73.70" r="2.20" />
<path d="M106.61 50.92 L106.47 71.29 L106.34 95.41 L109.02 110.16 L113.04 122.22 L112.37 130.26 L134.62 128.92 L134.62 128.92 L134.49 123.56 L137.17 115.52 L142.12 104.79 L142.93 96.75 L141.86 90.72 L138.91 88.04 L136.23 89.38 L135.96 85.36 L133.55 82.01 L130.06 82.68 L127.78 85.36 L127.78 85.36 L127.92 80.94 L125.51 78.26 L121.75 79.06 L118.40 82.68 L116.12 87.37 L116.12 87.37 L115.05 71.29 L114.38 50.92 Z" fill="#fff" stroke="none"/>
<path class="lg" d="M106.61 50.92 C106.56 57.71 106.56 56.46 106.47 71.29 C106.38 86.12 105.49 82.45 106.34 95.41 C107.19 108.37 106.79 101.22 109.02 110.16 C111.25 119.10 111.92 115.52 113.04 122.22 C114.16 128.92 112.59 127.58 112.37 130.26" />
<path class="lg" d="M114.38 50.92 C114.60 57.71 114.47 59.14 115.05 71.29 C115.63 83.44 115.76 82.01 116.12 87.37" />
<path class="lg" d="M116.12 87.37 C116.88 85.81 116.52 85.45 118.40 82.68 C120.28 79.91 119.38 80.53 121.75 79.06 C124.12 77.59 123.45 77.63 125.51 78.26 C127.57 78.89 127.16 78.57 127.92 80.94 C128.68 83.31 128.23 82.55 127.78 85.36 C127.33 88.17 126.98 88.04 126.58 89.38" />
<path class="lg" d="M127.78 85.36 C128.54 84.47 128.14 83.80 130.06 82.68 C131.98 81.56 131.58 81.12 133.55 82.01 C135.52 82.90 135.07 81.79 135.96 85.36 C136.85 88.93 136.14 90.27 136.23 92.73" />
<path class="lg" d="M136.23 89.38 C137.12 88.93 137.03 87.59 138.91 88.04 C140.79 88.49 140.52 87.82 141.86 90.72 C143.20 93.62 142.84 92.06 142.93 96.75 C143.02 101.44 144.04 98.53 142.12 104.79 C140.20 111.05 139.71 109.26 137.17 115.52 C134.63 121.78 135.34 119.09 134.49 123.56 C133.64 128.03 134.58 127.13 134.62 128.92" />
<circle class="lgw" cx="110.36" cy="50.11" r="3.00" style="stroke:#555"/>
<line class="lg" x1="109.29" y1="59.23" x2="112.37" y2="59.23" />
<line class="lg" x1="109.29" y1="72.36" x2="112.64" y2="72.36" />
<line class="lg" x1="109.29" y1="74.24" x2="112.64" y2="74.24" />
</g>
<path class="lgw" d="M174.23 1245.48 L195.15 1254.56 L189.18 1257.13 C190.04 1258.94 192.99 1264.35 194.33 1267.96 C195.67 1271.57 196.65 1275.17 197.22 1278.78 C197.79 1282.39 198.00 1285.83 197.73 1289.61 C197.45 1293.39 196.38 1298.74 195.57 1301.46 C194.76 1304.18 193.73 1305.64 192.89 1305.90 C192.05 1306.16 190.92 1303.49 190.52 1303.01 L190.52 1303.01 C190.88 1301.46 192.15 1296.82 192.68 1293.73 C193.21 1290.64 193.75 1287.54 193.71 1284.45 C193.68 1281.36 193.14 1278.10 192.47 1275.18 C191.80 1272.26 190.88 1269.41 189.69 1266.93 C188.50 1264.45 186.08 1261.43 185.36 1260.33 L184.54 1265.90 Z"/>
<g id="box1">
<path class="lw" style="stroke:#222;stroke-width:1" d="M685.98 29.18 Q680.31 30.88 680.88 35.41 L682.01 40.52 L686.55 42.22 L686.55 42.22 Q686.55 42.22 686.55 42.22 Z"/>
<path class="lw" d="M685.98 28.84 L747.22 28.38 L747.22 42.78 L686.55 42.22 L682.01 40.18 L680.65 35.41 L682.01 30.88 Z" style="stroke:#222;stroke-width:1.1"/>
<line class="ln" x1="687.11" y1="28.84" x2="687.57" y2="42.22" style="stroke:#222;stroke-width:1.2"/>
<line class="ln" x1="692.10" y1="28.84" x2="692.56" y2="42.22" style="stroke:#222;stroke-width:1.2"/>
<line class="ln" x1="697.09" y1="28.84" x2="697.55" y2="42.22" style="stroke:#222;stroke-width:1.2"/>
<line class="ln" x1="702.08" y1="28.84" x2="702.54" y2="42.22" style="stroke:#222;stroke-width:1.2"/>
<line class="ln" x1="707.07" y1="28.84" x2="707.53" y2="42.22" style="stroke:#222;stroke-width:1.2"/>
<line class="ln" x1="712.06" y1="28.84" x2="712.52" y2="42.22" style="stroke:#222;stroke-width:1.2"/>
<line class="ln" x1="717.05" y1="28.84" x2="717.51" y2="42.22" style="stroke:#222;stroke-width:1.2"/>
<line class="ln" x1="722.04" y1="28.84" x2="722.50" y2="42.22" style="stroke:#222;stroke-width:1.2"/>
<line class="ln" x1="682.01" y1="33.71" x2="725.10" y2="33.71" style="stroke:#222"/>
<line class="ln" x1="682.01" y1="37.45" x2="725.10" y2="37.45" style="stroke:#222"/>
<line class="ln" x1="687.57" y1="30.65" x2="692.10" y2="39.27" style="stroke:#1a1a1a;stroke-width:1.9"/>
<line class="ln" x1="692.56" y1="30.65" x2="697.09" y2="39.27" style="stroke:#1a1a1a;stroke-width:1.9"/>
<line class="ln" x1="697.55" y1="30.65" x2="702.08" y2="39.27" style="stroke:#1a1a1a;stroke-width:1.9"/>
<line class="ln" x1="702.54" y1="30.65" x2="707.07" y2="39.27" style="stroke:#1a1a1a;stroke-width:1.9"/>
<line class="ln" x1="707.53" y1="30.65" x2="712.06" y2="39.27" style="stroke:#1a1a1a;stroke-width:1.9"/>
<line class="ln" x1="712.52" y1="30.65" x2="717.05" y2="39.27" style="stroke:#1a1a1a;stroke-width:1.9"/>
<line class="ln" x1="717.51" y1="30.65" x2="722.04" y2="39.27" style="stroke:#1a1a1a;stroke-width:1.9"/>
<path class="lw" d="M716.60 30.31 L725.10 24.98 L726.24 26.34 L720.57 30.88 Z" style="stroke:#222;stroke-width:1;fill:#999"/>
<path class="lw" d="M718.30 41.31 L725.67 46.19 L726.81 44.71 L722.27 40.86 Z" style="stroke:#222;stroke-width:1;fill:#ddd"/>
<rect class="lw" x="726.81" y="28.84" width="15.30" height="13.38" style="stroke:#222;stroke-width:1.2;fill:#bbb"/>
<rect class="lw" x="729.07" y="32.01" width="11.34" height="7.03" rx="3" style="stroke:#111;stroke-width:1.6;fill:#eee"/>
<line class="ln" x1="732.48" y1="33.71" x2="732.48" y2="37.68" style="stroke:#222;stroke-width:1.2"/>
<line class="ln" x1="735.31" y1="33.71" x2="735.31" y2="37.68" style="stroke:#222;stroke-width:1.2"/>
<line class="ln" x1="738.15" y1="33.71" x2="738.15" y2="37.68" style="stroke:#222;stroke-width:1.2"/>
<rect class="lw" x="742.11" y="30.31" width="5.11" height="10.55" style="stroke:#222;stroke-width:1"/>
<line class="ln" x1="726.81" y1="28.84" x2="747.79" y2="28.38" style="stroke:#111;stroke-width:1.8"/>
<line class="ln" x1="726.81" y1="42.44" x2="747.79" y2="42.90" style="stroke:#111;stroke-width:1.8"/>
<rect class="dk" x="747.33" y="27.02" width="1.59" height="17.47" rx="0.6"/>
<g transform="translate(678.61 70.23) rotate(6.49)">
<path class="lw" style="stroke:#222;stroke-width:0.8;fill:#bbb" d="M0 0 L5.4 -3.0 L5.4 3.0 Z"/>
<rect x="5" y="-3.0" width="69.82" height="6" fill="#c4c4c4" stroke="none"/>
<line x1="5.10" y1="-3.6" x2="6.30" y2="3.6" stroke="#1c1c1c" stroke-width="1.35"/>
<line x1="7.46" y1="-3.6" x2="8.66" y2="3.6" stroke="#1c1c1c" stroke-width="1.35"/>
<line x1="9.82" y1="-3.6" x2="11.02" y2="3.6" stroke="#1c1c1c" stroke-width="1.35"/>
<line x1="12.18" y1="-3.6" x2="13.38" y2="3.6" stroke="#1c1c1c" stroke-width="1.35"/>
<line x1="14.54" y1="-3.6" x2="15.74" y2="3.6" stroke="#1c1c1c" stroke-width="1.35"/>
<line x1="16.90" y1="-3.6" x2="18.10" y2="3.6" stroke="#1c1c1c" stroke-width="1.35"/>
<line x1="19.26" y1="-3.6" x2="20.46" y2="3.6" stroke="#1c1c1c" stroke-width="1.35"/>
<line x1="21.62" y1="-3.6" x2="22.82" y2="3.6" stroke="#1c1c1c" stroke-width="1.35"/>
<line x1="23.98" y1="-3.6" x2="25.18" y2="3.6" stroke="#1c1c1c" stroke-width="1.35"/>
<line x1="26.34" y1="-3.6" x2="27.54" y2="3.6" stroke="#1c1c1c" stroke-width="1.35"/>
<line x1="28.70" y1="-3.6" x2="29.90" y2="3.6" stroke="#1c1c1c" stroke-width="1.35"/>
<line x1="31.06" y1="-3.6" x2="32.26" y2="3.6" stroke="#1c1c1c" stroke-width="1.35"/>
<line x1="33.42" y1="-3.6" x2="34.62" y2="3.6" stroke="#1c1c1c" stroke-width="1.35"/>
<line x1="35.78" y1="-3.6" x2="36.98" y2="3.6" stroke="#1c1c1c" stroke-width="1.35"/>
<line x1="38.14" y1="-3.6" x2="39.34" y2="3.6" stroke="#1c1c1c" stroke-width="1.35"/>
<line x1="40.50" y1="-3.6" x2="41.70" y2="3.6" stroke="#1c1c1c" stroke-width="1.35"/>
<line x1="42.86" y1="-3.6" x2="44.06" y2="3.6" stroke="#1c1c1c" stroke-width="1.35"/>
<line x1="45.22" y1="-3.6" x2="46.42" y2="3.6" stroke="#1c1c1c" stroke-width="1.35"/>
<line x1="47.58" y1="-3.6" x2="48.78" y2="3.6" stroke="#1c1c1c" stroke-width="1.35"/>
<line x1="49.94" y1="-3.6" x2="51.14" y2="3.6" stroke="#1c1c1c" stroke-width="1.35"/>
<line x1="52.30" y1="-3.6" x2="53.50" y2="3.6" stroke="#1c1c1c" stroke-width="1.35"/>
<line x1="54.66" y1="-3.6" x2="55.86" y2="3.6" stroke="#1c1c1c" stroke-width="1.35"/>
<line x1="57.02" y1="-3.6" x2="58.22" y2="3.6" stroke="#1c1c1c" stroke-width="1.35"/>
<line x1="59.38" y1="-3.6" x2="60.58" y2="3.6" stroke="#1c1c1c" stroke-width="1.35"/>
<line x1="61.74" y1="-3.6" x2="62.94" y2="3.6" stroke="#1c1c1c" stroke-width="1.35"/>
<line x1="64.10" y1="-3.6" x2="65.30" y2="3.6" stroke="#1c1c1c" stroke-width="1.35"/>
<line x1="66.46" y1="-3.6" x2="67.66" y2="3.6" stroke="#1c1c1c" stroke-width="1.35"/>
<line x1="68.82" y1="-3.6" x2="70.02" y2="3.6" stroke="#1c1c1c" stroke-width="1.35"/>
<line x1="71.18" y1="-3.6" x2="72.38" y2="3.6" stroke="#1c1c1c" stroke-width="1.35"/>
<line x1="73.54" y1="-3.6" x2="74.74" y2="3.6" stroke="#1c1c1c" stroke-width="1.35"/>
<rect x="74.82" y="-3.3" width="4.3" height="6.6" fill="#fff" stroke="#444" stroke-width="0.7"/>
</g>
<path class="lw" d="M796.43 41.38 L797.67 40.64 L806.70 43.36 L815.36 45.59 L815.11 48.31 L805.84 46.33 L797.67 44.60 L796.43 43.11 Z" style="stroke:#222;stroke-width:1;fill:#666"/>
<line class="ln" x1="798.66" y1="42.37" x2="805.84" y2="44.60" style="stroke:#ddd;stroke-width:0.7"/>
<path class="lw" d="M806.33 43.86 L815.24 46.08 L815.11 48.06 L806.08 45.84 Z" style="stroke:#222;stroke-width:0.9"/>
<path class="lw" d="M870.62 73.30 L899.48 72.47 L900.47 94.74 L907.07 127.73 L911.20 129.55 L902.78 133.51 L892.89 131.69 L882.99 129.22 L885.30 126.91 L874.08 93.51 L870.62 92.43 L871.11 83.20 Z" style="stroke:#1e1e1e;stroke-width:0.95"/>
<path class="ln" d="M871.11 82.54 L884.64 85.67 L888.43 83.20" style="stroke:#1e1e1e;stroke-width:0.95"/>
<path class="ln" d="M874.41 89.13 L894.54 91.86" style="stroke:#1e1e1e;stroke-width:0.95"/>
<path class="ln" d="M870.62 92.43 L873.92 93.26 L874.41 89.13" style="stroke:#1e1e1e;stroke-width:0.95"/>
<line class="ln" x1="875.07" y1="94.74" x2="883.65" y2="122.78" style="stroke:#1e1e1e;stroke-width:0.95"/>
<line class="ln" x1="887.94" y1="92.27" x2="892.89" y2="131.44" style="stroke:#1e1e1e;stroke-width:0.95"/>
<line class="ln" x1="894.54" y1="91.86" x2="903.20" y2="131.44" style="stroke:#1e1e1e;stroke-width:0.95"/>
<line class="ln" x1="898.00" y1="82.37" x2="904.76" y2="130.62" style="stroke:#1e1e1e;stroke-width:0.95"/>
<path class="ln" d="M878.87 70.00 C879.83 72.47 879.83 72.33 881.75 77.42 C883.67 82.51 883.68 82.65 884.64 85.26" style="stroke:#1e1e1e;stroke-width:0.95"/>
<path class="ln" d="M882.99 70.00 C884.50 73.57 884.37 74.81 887.53 80.72 C890.69 86.63 890.13 84.02 892.47 87.73 C894.81 91.44 893.85 90.48 894.54 91.86" style="stroke:#1e1e1e;stroke-width:0.95"/>
<path class="lw" d="M870.62 128.97 L882.58 124.85 L885.46 126.91 L882.99 129.22 L892.89 131.69 L902.78 133.51 L911.20 129.55 L912.35 130.37 L911.86 161.55 L893.71 167.48 L869.30 161.13 L869.13 131.44 Z" style="stroke:#1e1e1e;stroke-width:0.95"/>
<path class="ln" d="M869.13 131.44 L892.89 136.97 L895.20 137.63 L912.35 130.62" style="stroke:#1e1e1e;stroke-width:0.95"/>
<path class="ln" d="M870.62 128.97 L892.23 133.67 L892.89 136.97" style="stroke:#1e1e1e;stroke-width:0.95"/>
<path class="ln" d="M879.69 130.87 L884.64 129.05 L892.23 131.53" style="stroke:#1e1e1e;stroke-width:0.95"/>
<path class="ln" d="M895.20 137.63 L900.31 135.15 L902.78 132.85 L909.38 132.85" style="stroke:#1e1e1e;stroke-width:0.95"/>
<line class="ln" x1="892.89" y1="136.97" x2="892.89" y2="166.99" style="stroke:#1e1e1e;stroke-width:0.95"/>
<line class="ln" x1="895.20" y1="137.63" x2="895.20" y2="166.99" style="stroke:#1e1e1e;stroke-width:0.95"/>
<path class="ln" d="M869.13 159.07 L892.89 165.01" style="stroke:#1e1e1e;stroke-width:0.95"/>
<path class="ln" d="M895.20 165.01 L912.02 159.57" style="stroke:#1e1e1e;stroke-width:0.95"/>
<path class="lw" d="M814.74 45.59 L820.31 42.37 L827.36 39.65 L838.87 41.38 L848.15 43.61 L843.20 46.83 L841.96 65.88 L836.39 65.26 L833.30 62.41 L825.88 60.31 L820.93 56.97 L815.11 48.56 Z" style="stroke:#1e1e1e;stroke-width:0.95"/>
<path class="ln" d="M820.31 42.37 C819.77 44.84 818.49 44.92 818.70 49.79 C818.91 54.66 820.19 54.58 820.93 56.97" style="stroke:#1e1e1e;stroke-width:0.95"/>
<path class="ln" d="M834.79 41.38 C833.72 44.60 832.07 44.02 831.57 51.03 C831.07 58.04 832.72 58.62 833.30 62.41" style="stroke:#1e1e1e;stroke-width:0.95"/>
<path class="ln" d="M838.87 41.38 C837.92 45.01 836.72 44.35 836.02 52.27 C835.32 60.19 836.51 60.85 836.76 65.14" style="stroke:#1e1e1e;stroke-width:0.95"/>
<path class="lw" d="M843.20 46.83 L848.15 43.61 L854.33 42.00 L896.40 52.89 L896.64 56.60 L890.21 54.25 L884.64 56.72 L880.93 62.78 L879.32 74.04 L870.17 76.02 L844.44 69.59 L841.96 65.88 Z" style="stroke:#1e1e1e;stroke-width:0.95"/>
<line class="ln" x1="851.86" y1="43.36" x2="891.69" y2="53.75" style="stroke:#1e1e1e;stroke-width:0.95"/>
<line class="ln" x1="848.15" y1="43.61" x2="885.26" y2="54.74" style="stroke:#1e1e1e;stroke-width:0.95"/>
<line class="ln" x1="843.20" y1="46.83" x2="884.64" y2="56.72" style="stroke:#1e1e1e;stroke-width:0.95"/>
<line class="ln" x1="842.95" y1="54.12" x2="880.93" y2="63.16" style="stroke:#1e1e1e;stroke-width:0.95"/>
<line class="ln" x1="842.46" y1="65.63" x2="879.32" y2="74.04" style="stroke:#1e1e1e;stroke-width:0.95"/>
<path class="lw" d="M884.64 56.72 L890.21 54.25 L896.64 53.13 L896.89 56.60 L899.61 72.06 L899.37 75.53 L886.50 79.24 L882.17 77.01 L879.32 74.04 L880.93 62.78 Z" style="stroke:#1e1e1e;stroke-width:0.95"/>
<line class="ln" x1="883.03" y1="67.36" x2="897.14" y2="63.90" style="stroke:#1e1e1e;stroke-width:0.95"/>
<line class="ln" x1="885.01" y1="73.05" x2="899.61" y2="72.06" style="stroke:#1e1e1e;stroke-width:0.95"/>
<path class="ln" d="M884.64 56.72 C883.94 58.62 883.36 58.12 882.54 62.41 C881.72 66.70 881.35 66.04 882.17 69.59 C882.99 73.14 882.74 70.08 885.01 73.05 C887.28 76.02 887.65 76.68 888.97 78.50" style="stroke:#1e1e1e;stroke-width:0.95"/>
<line class="ln" x1="870.17" y1="76.02" x2="871.16" y2="79.73" style="stroke:#1e1e1e;stroke-width:0.95"/>
</g>
</svg>
</body></html>
